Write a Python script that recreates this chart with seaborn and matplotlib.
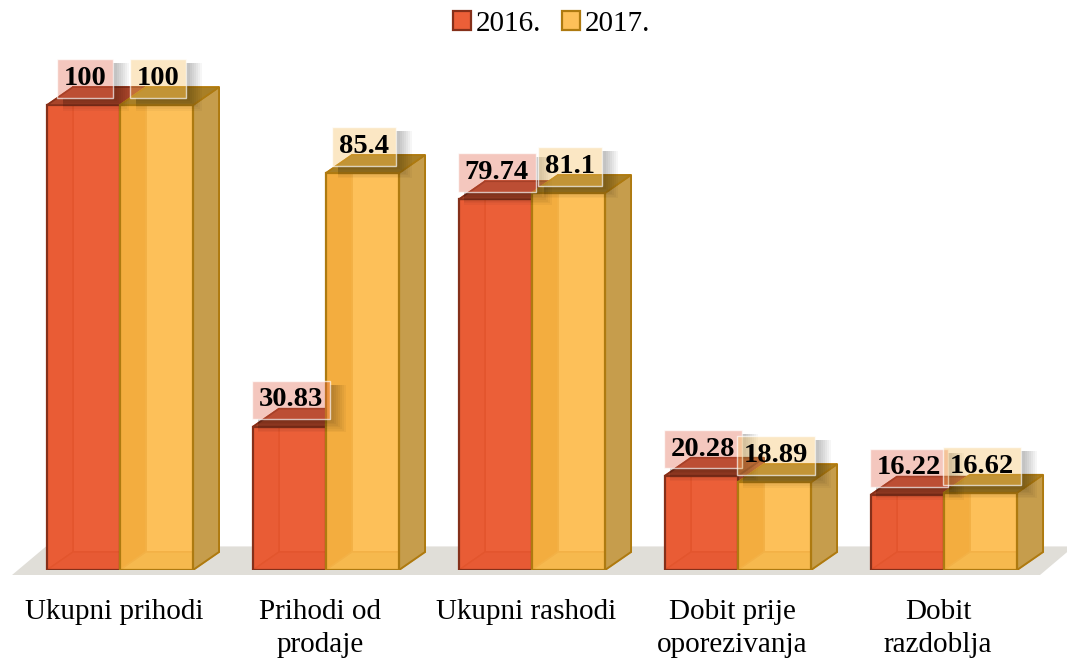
import matplotlib
matplotlib.use("Agg")
import matplotlib.pyplot as plt
import pandas as pd
import seaborn as sns
from matplotlib.colors import to_rgba
from matplotlib.patches import Polygon
from matplotlib.transforms import ScaledTranslation

# ------------------------------
# Data
# ------------------------------
categories = ["Ukupni prihodi", "Prihodi od\nprodaje", "Ukupni rashodi",
              "Dobit prije\noporezivanja", "Dobit\nrazdoblja"]
years = ["2016.", "2017."]
values_2016 = [100, 30.83, 79.74, 20.28, 16.22]
values_2017 = [100, 85.4, 81.1, 18.89, 16.62]

data = pd.DataFrame({
    "kategorija": categories * 2,
    "godina": [years[0]] * 5 + [years[1]] * 5,
    "vrijednost": values_2016 + values_2017,
})

# ------------------------------
# Colours: front, edge, inner wall, inner floor, inner line, right side, top
# ------------------------------
front = {years[0]: "#EB5F38", years[1]: "#FDC059"}
edge = {years[0]: "#85301A", years[1]: "#AE7A10"}
wall = {years[0]: "#E85A33", years[1]: "#E6931A"}
inner_floor = {years[0]: "#E2552F", years[1]: "#EDB040"}
inner_line = {years[0]: "#D8481F", years[1]: "#E59C2A"}
side = {years[0]: "#A84A2C", years[1]: "#C69D4C"}
top = {years[0]: "#A9452A", years[1]: "#A87F26"}
label_bg = {years[0]: "#E26147", years[1]: "#F5BD56"}

sns.set_theme(style="white")
plt.rcParams["font.family"] = ["Liberation Serif", "DejaVu Serif"]

fig = plt.figure(figsize=(10.67, 6.61), dpi=100)
# axes bottom sits on the bar baseline, floor and labels hang below it
ax = fig.add_axes([0, 91 / 661, 1, 570 / 661])

sns.barplot(data=data, x="kategorija", y="vrijednost", hue="godina",
            palette=front, saturation=1, width=0.709, gap=0, ax=ax)

ax.set_xlim(-0.5825, 4.597)
ax.set_ylim(0, 122.6)
ax.set_xlabel("")
ax.set_ylabel("")
ax.set_yticks([])
sns.despine(ax=ax, left=True, bottom=True, right=True, top=True)

# one pixel in data units, 206 px per category and 4.65 px per value unit
px_x = 1 / 206
px_y = 1 / 4.65

# depth of the fake 3D boxes
dx = 26 * px_x
dy = 18 * px_y

# floor plate
floor_y = -5 * px_y
ax.add_patch(Polygon([(-0.524, floor_y), (-0.359, dy + 1.2), (4.63, dy + 1.2), (4.466, floor_y)],
                     closed=True, facecolor="#E0DED8", edgecolor="none", zorder=1, clip_on=False))

labels_to_shadow = []
for group, (year, bars) in enumerate(zip(years, ax.containers)):
    base_z = 2 + group * 2
    for bar in bars:
        x = bar.get_x()
        w = bar.get_width()
        h = bar.get_height()
        bar.set_facecolor(to_rgba(front[year], 0.6))
        bar.set_edgecolor(edge[year])
        bar.set_linewidth(1.6)
        bar.set_zorder(base_z + 0.5)

        # inside of the box, seen through the front
        ax.add_patch(Polygon([(x + dx, dy), (x + w + dx, dy), (x + w + dx, h + dy), (x + dx, h + dy)],
                             facecolor=front[year], edgecolor=inner_line[year], lw=1.2, zorder=base_z))
        ax.add_patch(Polygon([(x, 0), (x + dx, dy), (x + dx, h + dy), (x, h)],
                             facecolor=wall[year], edgecolor=inner_line[year], lw=1.2, zorder=base_z + 0.1))
        ax.add_patch(Polygon([(x, 0), (x + w, 0), (x + w + dx, dy), (x + dx, dy)],
                             facecolor=inner_floor[year], edgecolor=inner_line[year], lw=1.0, zorder=base_z + 0.1))
        # right side and top
        ax.add_patch(Polygon([(x + w, 0), (x + w + dx, dy), (x + w + dx, h + dy), (x + w, h)],
                             facecolor=side[year], edgecolor=edge[year], lw=1.4, zorder=base_z + 0.2))
        ax.add_patch(Polygon([(x, h), (x + w, h), (x + w + dx, h + dy), (x + dx, h + dy)],
                             facecolor=top[year], edgecolor=edge[year], lw=1.2, zorder=base_z + 0.6))

        label = ax.annotate(f"{h:g}", (x + w / 2, h), xytext=(1, 19.2), textcoords="offset points",
                            ha="center", va="center", fontsize=20.5, fontweight="bold", color="black",
                            bbox=dict(boxstyle="square,pad=0.24", facecolor=to_rgba(label_bg[year], 0.35),
                                      edgecolor="#FFFFFFB0", linewidth=1.0),
                            zorder=8 + group * 0.1)
        labels_to_shadow.append((label, 7 + group * 0.1))

# soft shadow to the right of and below the value labels, sized from the drawn boxes
fig.canvas.draw()
renderer = fig.canvas.get_renderer()
to_data = ax.transData.inverted()
for label, z in labels_to_shadow:
    box = label.get_bbox_patch().get_window_extent(renderer).transformed(to_data)
    for grow in range(2, 17, 2):
        gx = grow * px_x
        gy = grow * 0.8 * px_y
        ax.add_patch(Polygon([(box.x0 + 6 * px_x, box.y0), (box.x1, box.y0), (box.x1, box.y1 - 4 * px_y),
                              (box.x1 + gx, box.y1 - 4 * px_y), (box.x1 + gx, box.y0 - gy),
                              (box.x0 + 6 * px_x, box.y0 - gy)],
                             facecolor="black", edgecolor="none", alpha=0.035, zorder=z))

# tick labels
ax.tick_params(axis="x", length=0, pad=21, labelsize=21)
shift = ScaledTranslation(-6 / 100, 0, fig.dpi_scale_trans)
for tick in ax.get_xticklabels():
    tick.set_transform(tick.get_transform() + shift)
    tick.set_linespacing(1.36)
    tick.set_color("black")

# legend
handles, labels = ax.get_legend_handles_labels()
for handle, year in zip(handles, years):
    handle.set_facecolor(front[year])
    handle.set_edgecolor(edge[year])
    handle.set_linewidth(1.6)
ax.legend(handles, labels, ncol=2, frameon=False, fontsize=21,
          loc="upper center", bbox_to_anchor=(0.517, 1.006, 0, 0), bbox_transform=fig.transFigure,
          handlelength=0.62, handleheight=0.62, handletextpad=0.15, columnspacing=0.72,
          borderaxespad=0.1, labelcolor="black")

fig.savefig("out.png", dpi=100)
